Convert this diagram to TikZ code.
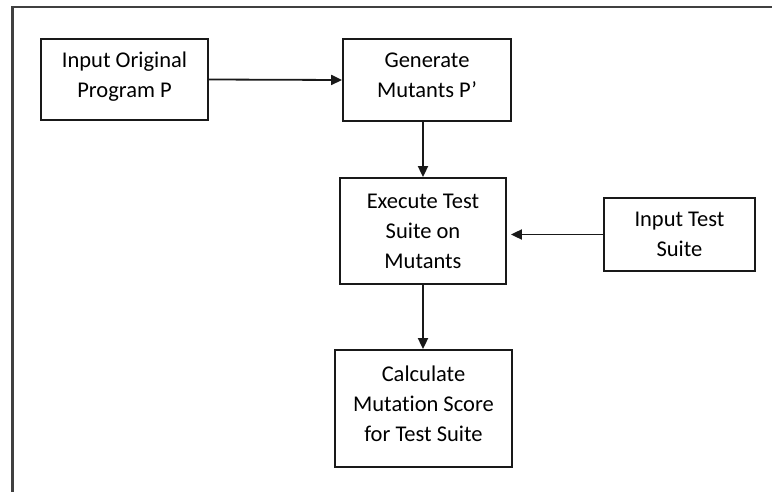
\documentclass[tikz,border=0pt]{standalone}
\usepackage{fontspec}
\setmainfont{Carlito}[Ligatures={NoCommon}]
\usetikzlibrary{arrows.meta}
\begin{document}
\begin{tikzpicture}[x=1pt,y=-1pt,
  box/.style={draw=black!90,line width=1.8pt,rectangle,align=center,inner sep=0pt,
    font=\fontsize{22.5}{30}\selectfont,text=black},
  conn/.style={draw=black!90,line width=1.8pt,-{Triangle[length=11pt,width=10pt]}}]
\useasboundingbox (0,0) rectangle (772,492);
\fill[white] (0,0) rectangle (772,492);
\draw[black!75,line width=2.2pt] (12.5,493) -- (12.5,7) -- (773,7);
\node[box,minimum width=167pt,minimum height=81pt] (orig) at (124.5,79.5) {Input Original\\Program P\strut};
\node[box,minimum width=168pt,minimum height=82pt] (gen) at (427,80) {Generate\\Mutants P’\strut};
\node[box,minimum width=166pt,minimum height=106pt] (exec) at (423,231) {Execute Test\\Suite on\\Mutants};
\node[box,minimum width=151pt,minimum height=73pt] (its) at (679.5,234.5) {Input Test\\Suite};
\node[box,minimum width=177pt,minimum height=117pt] (calc) at (423.5,408.5) {Calculate\\Mutation Score\\for Test Suite\strut};
\draw[conn] (orig.east) -- (gen.west);
\draw[conn] (gen.south -| 423,0) -- (exec.north);
\draw[conn,shorten >=4pt] (its.west) -- (its.west -| exec.east);
\draw[conn] (exec.south) -- (calc.north -| exec.south);
\end{tikzpicture}
\end{document}
